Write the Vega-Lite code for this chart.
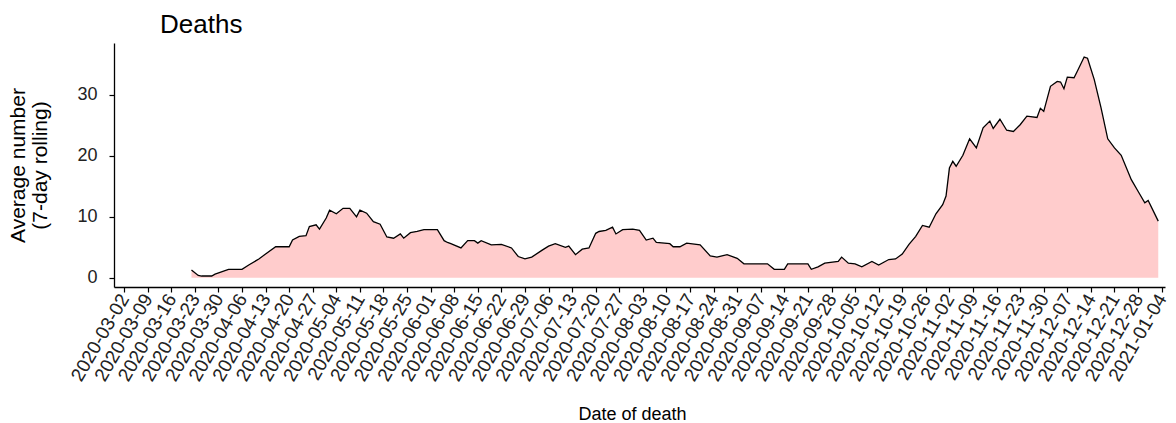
{
  "$schema": "https://vega.github.io/schema/vega-lite/v6.json",
  "width": 1051,
  "height": 244,
  "autosize": {"type": "none"},
  "padding": {"left": 114, "top": 43, "right": 11, "bottom": 136},
  "background": "white",
  "title": {"text": "Deaths", "anchor": "start", "frame": "group", "dx": 46, "dy": 28, "offset": 12, "baseline": "alphabetic", "fontSize": 26, "fontWeight": "normal", "font": "Liberation Sans", "color": "black"},
  "data": {"values": [
    {"date": "2020-03-22", "value": 1.3},
    {"date": "2020-03-24", "value": 0.4},
    {"date": "2020-03-25", "value": 0.3},
    {"date": "2020-03-28", "value": 0.3},
    {"date": "2020-03-29", "value": 0.6},
    {"date": "2020-04-02", "value": 1.4},
    {"date": "2020-04-06", "value": 1.4},
    {"date": "2020-04-08", "value": 2.1},
    {"date": "2020-04-11", "value": 3.1},
    {"date": "2020-04-13", "value": 3.9},
    {"date": "2020-04-16", "value": 5.1},
    {"date": "2020-04-20", "value": 5.1},
    {"date": "2020-04-21", "value": 6.2},
    {"date": "2020-04-23", "value": 6.8},
    {"date": "2020-04-25", "value": 6.9},
    {"date": "2020-04-26", "value": 8.4},
    {"date": "2020-04-28", "value": 8.7},
    {"date": "2020-04-29", "value": 8.0},
    {"date": "2020-05-01", "value": 9.8},
    {"date": "2020-05-02", "value": 11.1},
    {"date": "2020-05-04", "value": 10.5},
    {"date": "2020-05-06", "value": 11.4},
    {"date": "2020-05-08", "value": 11.4},
    {"date": "2020-05-10", "value": 10.0},
    {"date": "2020-05-11", "value": 11.1},
    {"date": "2020-05-13", "value": 10.6},
    {"date": "2020-05-15", "value": 9.2},
    {"date": "2020-05-17", "value": 8.8},
    {"date": "2020-05-19", "value": 6.7},
    {"date": "2020-05-21", "value": 6.5},
    {"date": "2020-05-23", "value": 7.2},
    {"date": "2020-05-24", "value": 6.5},
    {"date": "2020-05-26", "value": 7.4},
    {"date": "2020-05-28", "value": 7.6},
    {"date": "2020-05-30", "value": 7.9},
    {"date": "2020-06-03", "value": 7.9},
    {"date": "2020-06-05", "value": 6.1},
    {"date": "2020-06-06", "value": 5.8},
    {"date": "2020-06-07", "value": 5.6},
    {"date": "2020-06-10", "value": 4.9},
    {"date": "2020-06-12", "value": 6.1},
    {"date": "2020-06-14", "value": 6.1},
    {"date": "2020-06-15", "value": 5.7},
    {"date": "2020-06-16", "value": 6.1},
    {"date": "2020-06-19", "value": 5.4},
    {"date": "2020-06-22", "value": 5.5},
    {"date": "2020-06-25", "value": 4.9},
    {"date": "2020-06-27", "value": 3.5},
    {"date": "2020-06-29", "value": 3.1},
    {"date": "2020-07-01", "value": 3.4},
    {"date": "2020-07-04", "value": 4.5},
    {"date": "2020-07-06", "value": 5.2},
    {"date": "2020-07-08", "value": 5.6},
    {"date": "2020-07-11", "value": 5.0},
    {"date": "2020-07-12", "value": 5.2},
    {"date": "2020-07-14", "value": 3.8},
    {"date": "2020-07-16", "value": 4.7},
    {"date": "2020-07-18", "value": 4.9},
    {"date": "2020-07-20", "value": 7.3},
    {"date": "2020-07-21", "value": 7.6},
    {"date": "2020-07-23", "value": 7.8},
    {"date": "2020-07-25", "value": 8.3},
    {"date": "2020-07-26", "value": 7.2},
    {"date": "2020-07-28", "value": 7.9},
    {"date": "2020-07-31", "value": 8.0},
    {"date": "2020-08-02", "value": 7.8},
    {"date": "2020-08-04", "value": 6.2},
    {"date": "2020-08-06", "value": 6.5},
    {"date": "2020-08-07", "value": 5.8},
    {"date": "2020-08-11", "value": 5.6},
    {"date": "2020-08-12", "value": 5.1},
    {"date": "2020-08-14", "value": 5.1},
    {"date": "2020-08-16", "value": 5.7},
    {"date": "2020-08-20", "value": 5.4},
    {"date": "2020-08-23", "value": 3.6},
    {"date": "2020-08-25", "value": 3.4},
    {"date": "2020-08-28", "value": 3.8},
    {"date": "2020-08-31", "value": 3.2},
    {"date": "2020-09-02", "value": 2.3},
    {"date": "2020-09-09", "value": 2.3},
    {"date": "2020-09-11", "value": 1.4},
    {"date": "2020-09-14", "value": 1.4},
    {"date": "2020-09-15", "value": 2.3},
    {"date": "2020-09-21", "value": 2.3},
    {"date": "2020-09-22", "value": 1.4},
    {"date": "2020-09-24", "value": 1.8},
    {"date": "2020-09-26", "value": 2.4},
    {"date": "2020-09-30", "value": 2.7},
    {"date": "2020-10-01", "value": 3.4},
    {"date": "2020-10-03", "value": 2.4},
    {"date": "2020-10-05", "value": 2.3},
    {"date": "2020-10-07", "value": 1.8},
    {"date": "2020-10-10", "value": 2.7},
    {"date": "2020-10-12", "value": 2.1},
    {"date": "2020-10-15", "value": 3.0},
    {"date": "2020-10-17", "value": 3.1},
    {"date": "2020-10-19", "value": 3.9},
    {"date": "2020-10-21", "value": 5.5},
    {"date": "2020-10-23", "value": 6.8},
    {"date": "2020-10-25", "value": 8.6},
    {"date": "2020-10-27", "value": 8.3},
    {"date": "2020-10-29", "value": 10.5},
    {"date": "2020-10-31", "value": 12.0},
    {"date": "2020-11-01", "value": 13.4},
    {"date": "2020-11-02", "value": 18.0},
    {"date": "2020-11-03", "value": 19.1},
    {"date": "2020-11-04", "value": 18.3},
    {"date": "2020-11-06", "value": 20.1},
    {"date": "2020-11-08", "value": 22.8},
    {"date": "2020-11-10", "value": 21.3},
    {"date": "2020-11-12", "value": 24.6},
    {"date": "2020-11-14", "value": 25.7},
    {"date": "2020-11-15", "value": 24.5},
    {"date": "2020-11-17", "value": 26.0},
    {"date": "2020-11-19", "value": 24.2},
    {"date": "2020-11-21", "value": 24.0},
    {"date": "2020-11-23", "value": 25.1},
    {"date": "2020-11-25", "value": 26.5},
    {"date": "2020-11-28", "value": 26.3},
    {"date": "2020-11-29", "value": 27.8},
    {"date": "2020-11-30", "value": 27.3},
    {"date": "2020-12-02", "value": 31.4},
    {"date": "2020-12-04", "value": 32.2},
    {"date": "2020-12-05", "value": 32.1},
    {"date": "2020-12-06", "value": 31.0},
    {"date": "2020-12-07", "value": 32.9},
    {"date": "2020-12-09", "value": 32.8},
    {"date": "2020-12-10", "value": 33.9},
    {"date": "2020-12-12", "value": 36.2},
    {"date": "2020-12-13", "value": 36.0},
    {"date": "2020-12-15", "value": 32.5},
    {"date": "2020-12-17", "value": 27.9},
    {"date": "2020-12-19", "value": 22.8},
    {"date": "2020-12-21", "value": 21.3},
    {"date": "2020-12-23", "value": 20.1},
    {"date": "2020-12-26", "value": 16.1},
    {"date": "2020-12-28", "value": 14.2},
    {"date": "2020-12-30", "value": 12.3},
    {"date": "2020-12-31", "value": 12.7},
    {"date": "2021-01-03", "value": 9.3}
  ]},
  "encoding": {
    "x": {
      "field": "date", "type": "temporal",
      "scale": {"type": "utc", "domain": [{"year": 2020, "month": 2, "date": 28, "utc": true}, {"year": 2021, "month": 1, "date": 5, "utc": true}], "nice": false},
      "axis": {
        "title": "Date of death",
        "labelExpr": "utcFormat(datum.value, '%Y-%m-%d')",
        "labelAngle": -60,
        "labelAlign": "right",
        "labelBaseline": "middle",
        "labelOverlap": false,
        "labelFlush": false,
        "labelBound": false,
        "labelPadding": 3,
        "labelFontSize": 19,
        "titleX": 518,
        "titleY": 132,
        "titleBaseline": "alphabetic",
        "titleAnchor": "middle",
        "values": [
          {"year": 2020, "month": 3, "date": 2, "utc": true},
          {"year": 2020, "month": 3, "date": 9, "utc": true},
          {"year": 2020, "month": 3, "date": 16, "utc": true},
          {"year": 2020, "month": 3, "date": 23, "utc": true},
          {"year": 2020, "month": 3, "date": 30, "utc": true},
          {"year": 2020, "month": 4, "date": 6, "utc": true},
          {"year": 2020, "month": 4, "date": 13, "utc": true},
          {"year": 2020, "month": 4, "date": 20, "utc": true},
          {"year": 2020, "month": 4, "date": 27, "utc": true},
          {"year": 2020, "month": 5, "date": 4, "utc": true},
          {"year": 2020, "month": 5, "date": 11, "utc": true},
          {"year": 2020, "month": 5, "date": 18, "utc": true},
          {"year": 2020, "month": 5, "date": 25, "utc": true},
          {"year": 2020, "month": 6, "date": 1, "utc": true},
          {"year": 2020, "month": 6, "date": 8, "utc": true},
          {"year": 2020, "month": 6, "date": 15, "utc": true},
          {"year": 2020, "month": 6, "date": 22, "utc": true},
          {"year": 2020, "month": 6, "date": 29, "utc": true},
          {"year": 2020, "month": 7, "date": 6, "utc": true},
          {"year": 2020, "month": 7, "date": 13, "utc": true},
          {"year": 2020, "month": 7, "date": 20, "utc": true},
          {"year": 2020, "month": 7, "date": 27, "utc": true},
          {"year": 2020, "month": 8, "date": 3, "utc": true},
          {"year": 2020, "month": 8, "date": 10, "utc": true},
          {"year": 2020, "month": 8, "date": 17, "utc": true},
          {"year": 2020, "month": 8, "date": 24, "utc": true},
          {"year": 2020, "month": 8, "date": 31, "utc": true},
          {"year": 2020, "month": 9, "date": 7, "utc": true},
          {"year": 2020, "month": 9, "date": 14, "utc": true},
          {"year": 2020, "month": 9, "date": 21, "utc": true},
          {"year": 2020, "month": 9, "date": 28, "utc": true},
          {"year": 2020, "month": 10, "date": 5, "utc": true},
          {"year": 2020, "month": 10, "date": 12, "utc": true},
          {"year": 2020, "month": 10, "date": 19, "utc": true},
          {"year": 2020, "month": 10, "date": 26, "utc": true},
          {"year": 2020, "month": 11, "date": 2, "utc": true},
          {"year": 2020, "month": 11, "date": 9, "utc": true},
          {"year": 2020, "month": 11, "date": 16, "utc": true},
          {"year": 2020, "month": 11, "date": 23, "utc": true},
          {"year": 2020, "month": 11, "date": 30, "utc": true},
          {"year": 2020, "month": 12, "date": 7, "utc": true},
          {"year": 2020, "month": 12, "date": 14, "utc": true},
          {"year": 2020, "month": 12, "date": 21, "utc": true},
          {"year": 2020, "month": 12, "date": 28, "utc": true},
          {"year": 2021, "month": 1, "date": 4, "utc": true}
        ]
      }
    },
    "y": {
      "field": "value", "type": "quantitative",
      "scale": {"domain": [-1.5, 38.5], "nice": false, "zero": false},
      "axis": {
        "title": ["Average number", "(7-day rolling)"],
        "values": [0, 10, 20, 30],
        "labelFontSize": 18,
        "labelPadding": 12,
        "titleFontSize": 21,
        "titleX": -96,
        "titleY": 122,
        "titleAngle": -90,
        "titleAlign": "center",
        "titleBaseline": "middle",
        "titleLineHeight": 22
      }
    }
  },
  "layer": [
    {"mark": {"type": "area", "color": "#FFCCCC", "opacity": 1}, "encoding": {"y2": {"datum": 0}}},
    {"mark": {"type": "line", "color": "black", "strokeWidth": 1.3}, "encoding": {}}
  ],
  "config": {
    "view": {"stroke": null},
    "font": "Liberation Sans",
    "axis": {
      "grid": false,
      "domainColor": "black",
      "domainWidth": 1.3,
      "tickColor": "black",
      "tickWidth": 1.2,
      "tickSize": 5,
      "labelColor": "#222222",
      "labelFont": "Liberation Sans",
      "titleFont": "Liberation Sans",
      "titleFontSize": 18,
      "titleFontWeight": "normal",
      "titleColor": "black"
    }
  }
}
